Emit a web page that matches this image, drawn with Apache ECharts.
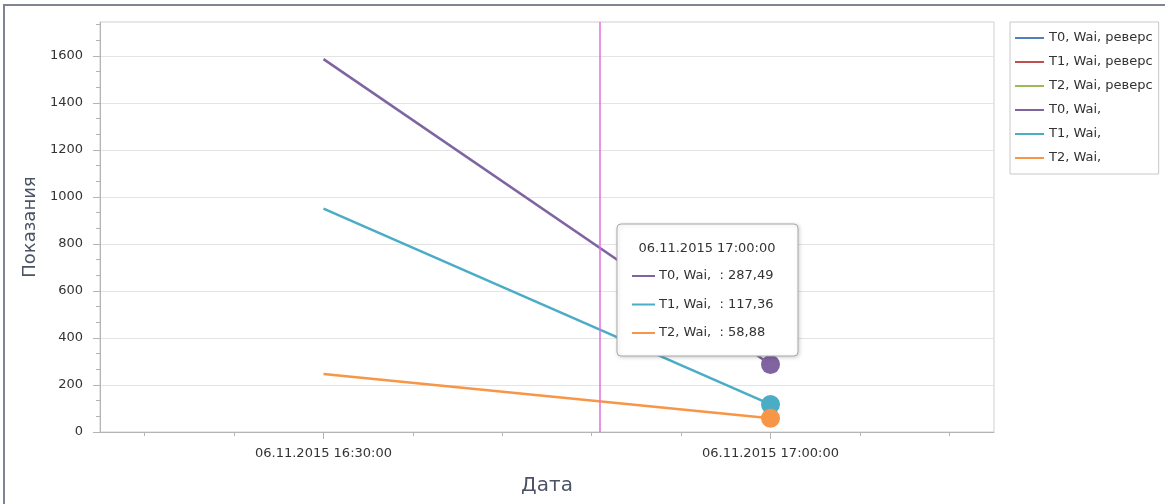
<!DOCTYPE html>
<html>
<head>
<meta charset="utf-8">
<script src="https://cdn.jsdelivr.net/npm/echarts@6/dist/echarts.min.js"></script>
<style>
html,body{margin:0;padding:0;background:#fff;}
#chart{width:1165px;height:504px;}
</style>
</head>
<body>
<div id="chart"></div>
<script>
// ---- data ----
var tickCategories = ['06.11.2015 16:18:00','06.11.2015 16:24:00','06.11.2015 16:30:00','06.11.2015 16:36:00','06.11.2015 16:42:00','06.11.2015 16:48:00','06.11.2015 16:54:00','06.11.2015 17:00:00','06.11.2015 17:06:00','06.11.2015 17:12:00'];
var labeledCategories = ['06.11.2015 16:30:00','06.11.2015 17:00:00'];
var yTickLabels = [0, 200, 400, 600, 800, 1000, 1200, 1400, 1600];
var times = ['06.11.2015 16:30:00','06.11.2015 17:00:00'];
var seriesNames = ['T0, Wai, реверс','T1, Wai, реверс','T2, Wai, реверс','T0, Wai,','T1, Wai,','T2, Wai,'];
var t0Rev = [];
var t1Rev = [];
var t2Rev = [];
var t0 = [1587, 287.49];
var t1 = [951, 117.36];
var t2 = [247, 58.88];
var crosshairTime = '06.11.2015 16:48:32';
var tooltipTime = '06.11.2015 17:00:00';
var colors = ['#4f81bd','#c0504d','#9bbb59','#8064a2','#4bacc6','#f79646'];

var Y_MAX = 1745, Y_STEP = 200, Y_MINOR = 3;

function toMinutes(s){ // minutes since 16:00
  var t = s.split(' ')[1].split(':');
  return (+t[0]-16)*60 + (+t[1]) + (+t[2])/60;
}
function fmt(v){ return v.toFixed(2).replace('.', ','); }

var minorVals = [];
for (var k = 0; k * Y_STEP / Y_MINOR <= Y_MAX; k++) {
  if (k % Y_MINOR !== 0) minorVals.push(k * Y_STEP / Y_MINOR);
}

var chart = echarts.init(document.getElementById('chart'));
var font = 'DejaVu Sans';
var allData = [t0Rev,t1Rev,t2Rev,t0,t1,t2];
var series = allData.map(function(arr, i){
  var pts = arr.map(function(v, j){
    var last = j === times.indexOf(tooltipTime);
    return {value:[toMinutes(times[j]), v], symbol: last ? 'circle' : 'none', symbolSize: last ? 19 : 0};
  });
  var s = {
    name: seriesNames[i], type:'line', xAxisIndex:2, yAxisIndex:0,
    data: pts, symbol:'none', showSymbol:true, silent:true,
    lineStyle:{color:colors[i], width:2.5}, itemStyle:{color:colors[i]},
    animation:false, z: 3
  };
  if (i === 0) {
    s.markLine = {silent:true, symbol:'none', label:{show:false},
      lineStyle:{color:'#df70df', width:1.5, type:'solid'},
      data:[{xAxis: toMinutes(crosshairTime)}], animation:false};
  }
  return s;
});

// tooltip box built from data
var TZ = 200;
var tipIdx = times.indexOf(tooltipTime);
var tipChildren = [
  {type:'rect', z:TZ, shape:{x:0,y:0,width:181,height:132,r:4},
   style:{fill:'#fff', stroke:'#a8a8a8', lineWidth:1, shadowBlur:4, shadowColor:'rgba(0,0,0,0.18)', shadowOffsetX:1, shadowOffsetY:1}},
  {type:'text', z:TZ+1, x:90, y:25, style:{text:tooltipTime, font:'13px "'+font+'"', fill:'#333', align:'center', verticalAlign:'middle'}}
];
[3,4,5].forEach(function(si, k){
  var y = 52 + k*28.5;
  tipChildren.push({type:'line', z:TZ+1, shape:{x1:15,y1:y,x2:38,y2:y}, style:{stroke:colors[si], lineWidth:2}});
  tipChildren.push({type:'text', z:TZ+1, x:42, y:y, style:{text:seriesNames[si]+'  : '+fmt(allData[si][tipIdx]), font:'13px "'+font+'"', fill:'#333', verticalAlign:'middle'}});
});

var option = {
  animation:false,
  color: colors,
  textStyle:{fontFamily:font},
  grid:{left:100, top:22, right:171, bottom:72, show:true, borderColor:'#cfcfcf', borderWidth:1, containLabel:false, outerBoundsMode:'none'},
  legend:{
    orient:'vertical', left:1010, top:22, data:seriesNames,
    icon:'rect', itemWidth:29, itemHeight:2, itemGap:10,
    padding:[9,6,9,5], borderColor:'#c8c8c8', borderWidth:1,
    textStyle:{fontFamily:font, fontSize:13, color:'#333', lineHeight:14},
    selectedMode:false
  },
  xAxis:[
    {type:'category', data:tickCategories, boundaryGap:true, position:'bottom',
     axisLine:{show:true, lineStyle:{color:'#b4b4b4'}},
     axisTick:{show:true, alignWithLabel:true, interval:0, length:4, lineStyle:{color:'#b4b4b4'}},
     axisLabel:{show:false, interval:0}, splitLine:{show:false},
     name:'Дата', nameLocation:'middle', nameGap:44,
     nameTextStyle:{fontFamily:font, fontSize:20, color:'#4a5464'}},
    {type:'category', data:tickCategories, boundaryGap:true, position:'bottom',
     axisLine:{show:false},
     axisTick:{show:true, alignWithLabel:true, length:7, lineStyle:{color:'#b4b4b4'},
       interval:function(i, v){ return labeledCategories.indexOf(v) >= 0; }},
     axisLabel:{show:true, margin:15, fontFamily:font, fontSize:13, color:'#333',
       interval:function(i, v){ return labeledCategories.indexOf(v) >= 0; }},
     splitLine:{show:false}},
    {type:'value', min:15, max:75, show:false, splitLine:{show:false}}
  ],
  yAxis:[{
    type:'value', min:0, max:Y_MAX, interval:Y_STEP,
    axisLine:{show:true, lineStyle:{color:'#b4b4b4'}},
    axisTick:{show:true, length:7, lineStyle:{color:'#b4b4b4'}, customValues:yTickLabels},
    axisLabel:{fontFamily:font, fontSize:13, color:'#333', margin:17, customValues:yTickLabels,
      formatter:function(v){ return String(v); }},
    splitLine:{show:true, lineStyle:{color:'#e4e4e4'}},
    name:'Показания', nameLocation:'middle', nameGap:58, nameRotate:90,
    nameTextStyle:{fontFamily:font, fontSize:18, color:'#4a5464'}
  },{
    type:'value', min:0, max:Y_MAX, position:'left',
    axisLine:{show:false},
    axisTick:{show:true, length:4, lineStyle:{color:'#b4b4b4'}, customValues:minorVals},
    axisLabel:{show:false}, splitLine:{show:false}
  }],
  series: series,
  graphic:[
    {type:'rect', silent:true, z:TZ, shape:{x:4, y:5, width:1175, height:520}, style:{fill:'none', stroke:'#7f8590', lineWidth:2}},
    {type:'group', x:617, y:224, children:tipChildren}
  ]
};
chart.setOption(option);
</script>
</body>
</html>
